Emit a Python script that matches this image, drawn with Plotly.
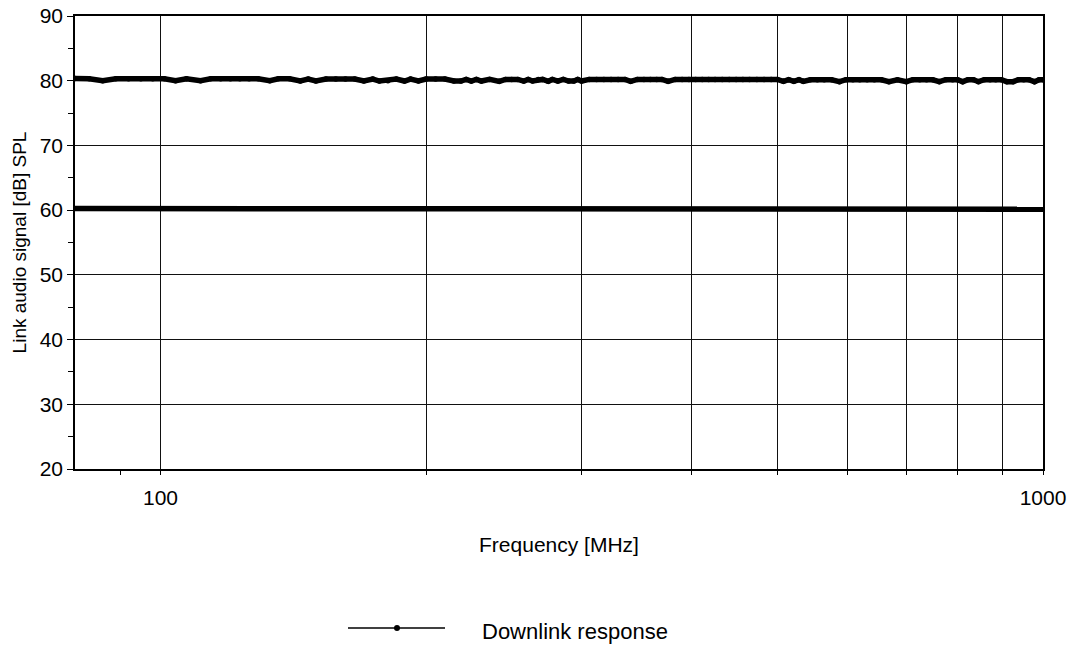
import plotly.graph_objects as go

# ---- data ----
freq_top = [80, 83, 86, 89, 92, 95, 98, 101, 104, 107, 111, 114, 117, 120, 123, 126, 129, 133, 136, 140,
            144, 147, 150, 154, 158, 162, 166, 170, 174, 177, 181, 185, 189, 192, 196, 200, 205, 210, 215, 219,
            222, 225, 228, 231, 236, 242, 246, 250, 254, 258, 261, 264, 268, 271, 275, 278, 282, 286, 290, 294,
            297, 300, 306, 312, 318, 324, 330, 336, 341, 347, 353, 359, 365, 370, 376, 383, 390, 397, 404, 411,
            418, 425, 433, 441, 449, 457, 465, 474, 483, 492, 500, 508, 515, 522, 529, 535, 545, 555, 565, 576,
            588, 598, 609, 620, 632, 644, 656, 669, 684, 700, 712, 725, 738, 750, 763, 776, 790, 800, 811, 822,
            834, 845, 858, 871, 884, 897, 910, 925, 938, 951, 964, 978, 990, 1000]
level_top = [80.35, 80.3, 80.0, 80.3, 80.3, 80.3, 80.3, 80.3, 80.0, 80.3, 80.0, 80.3, 80.3, 80.3, 80.3, 80.3, 80.3, 80.0, 80.3, 80.3,
             79.95, 80.25, 79.95, 80.25, 80.25, 80.25, 80.25, 79.95, 80.25, 79.95, 80.0, 80.25, 79.95, 80.25, 79.95, 80.25, 80.25, 80.25, 79.95, 79.95,
             80.2, 79.95, 80.2, 79.95, 80.2, 79.9, 80.2, 80.2, 80.2, 79.95, 80.2, 79.95, 80.2, 80.2, 79.9, 80.2, 79.95, 80.2, 79.95, 79.95,
             80.2, 79.95, 80.2, 80.2, 80.2, 80.2, 80.2, 80.2, 79.9, 80.2, 80.2, 80.2, 80.2, 80.2, 79.9, 80.2, 80.2, 80.2, 80.2, 80.2,
             80.2, 80.2, 80.2, 80.2, 80.2, 80.2, 80.2, 80.2, 80.2, 80.2, 80.2, 79.9, 80.15, 79.9, 80.15, 79.9, 80.15, 80.15, 80.15, 80.15,
             79.85, 80.15, 80.15, 80.15, 80.15, 80.15, 80.15, 79.85, 80.15, 79.85, 80.15, 80.15, 80.15, 80.15, 79.85, 80.15, 80.15, 80.15, 79.85, 80.15,
             80.15, 79.85, 80.15, 80.15, 80.15, 80.15, 79.85, 79.85, 80.15, 80.15, 80.15, 79.85, 80.15, 80.15]

freq_bottom = [80, 100, 150, 200, 300, 400, 500, 700, 1000]
level_bottom = [60.25, 60.25, 60.2, 60.2, 60.2, 60.15, 60.15, 60.15, 60.15]

x_grid_vals = [100, 200, 300, 400, 500, 600, 700, 800, 900, 1000]
x_grid_text = ["100", "", "", "", "", "", "", "", "", "1000"]
x_minor_vals = [90]

legend_label = "Downlink response"
x_title = "Frequency [MHz]"
y_title = "Link audio signal [dB] SPL"

FONT = "Liberation Sans, Arial, Helvetica, sans-serif"

fig = go.Figure()
fig.add_trace(go.Scatter(x=freq_top, y=level_top, mode="lines+markers",
                         line=dict(color="black", width=5.5),
                         marker=dict(color="black", size=5.5),
                         name=legend_label, showlegend=False))
fig.add_trace(go.Scatter(x=freq_bottom, y=level_bottom, mode="lines",
                         line=dict(color="black", width=5.5),
                         name=legend_label, showlegend=False))

# manual legend (line with dot + label)
L, R, T, B = 75, 30, 16, 177
W, H = 1073 - L - R, 646 - T - B
def px(xp):
    return (xp - L) / W
def py(yp):
    return (646 - B - yp) / H

fig.add_shape(type="line", xref="paper", yref="paper",
              x0=px(348), x1=px(445), y0=py(628), y1=py(628),
              line=dict(color="black", width=1.5))
fig.add_shape(type="circle", xref="paper", yref="paper",
              x0=px(394), x1=px(400), y0=py(631), y1=py(625),
              fillcolor="black", line=dict(color="black", width=0))
fig.add_annotation(text=legend_label, xref="paper", yref="paper",
                   x=px(480), y=py(631), xanchor="left", yanchor="middle",
                   showarrow=False, font=dict(family=FONT, size=22, color="black"))

fig.update_xaxes(type="log", range=[1.90309, 3.0], automargin=False,
                 tickvals=x_grid_vals, ticktext=x_grid_text,
                 showgrid=True, gridcolor="#111", gridwidth=1,
                 showline=True, linecolor="black", linewidth=1.5, mirror=True,
                 ticks="outside", ticklen=4, tickcolor="black",
                 tickfont=dict(family=FONT, size=21, color="black"),
                 ticklabelstandoff=5,
                 minor=dict(tickvals=x_minor_vals, ticks="outside", ticklen=4,
                            tickcolor="black", showgrid=False),
                 title=dict(text=x_title, font=dict(family=FONT, size=21, color="black"),
                            standoff=29),
                 zeroline=False)
fig.update_yaxes(range=[20, 90], dtick=10, tick0=20, automargin=False,
                 showgrid=True, gridcolor="#111", gridwidth=1,
                 showline=True, linecolor="black", linewidth=1.5, mirror=True,
                 ticks="outside", ticklen=6, tickcolor="black",
                 tickfont=dict(family=FONT, size=21, color="black"),
                 minor=dict(dtick=5, tick0=20, ticks="outside", ticklen=5,
                            tickcolor="black", showgrid=False),
                 title=dict(text=y_title, font=dict(family=FONT, size=19, color="black"),
                            standoff=8),
                 zeroline=False)

fig.update_layout(width=1073, height=646,
                  margin=dict(l=L, r=R, t=T, b=B, pad=0, autoexpand=False),
                  paper_bgcolor="white", plot_bgcolor="white",
                  showlegend=False,
                  font=dict(family=FONT, color="black"))

fig.write_html("out.html")
